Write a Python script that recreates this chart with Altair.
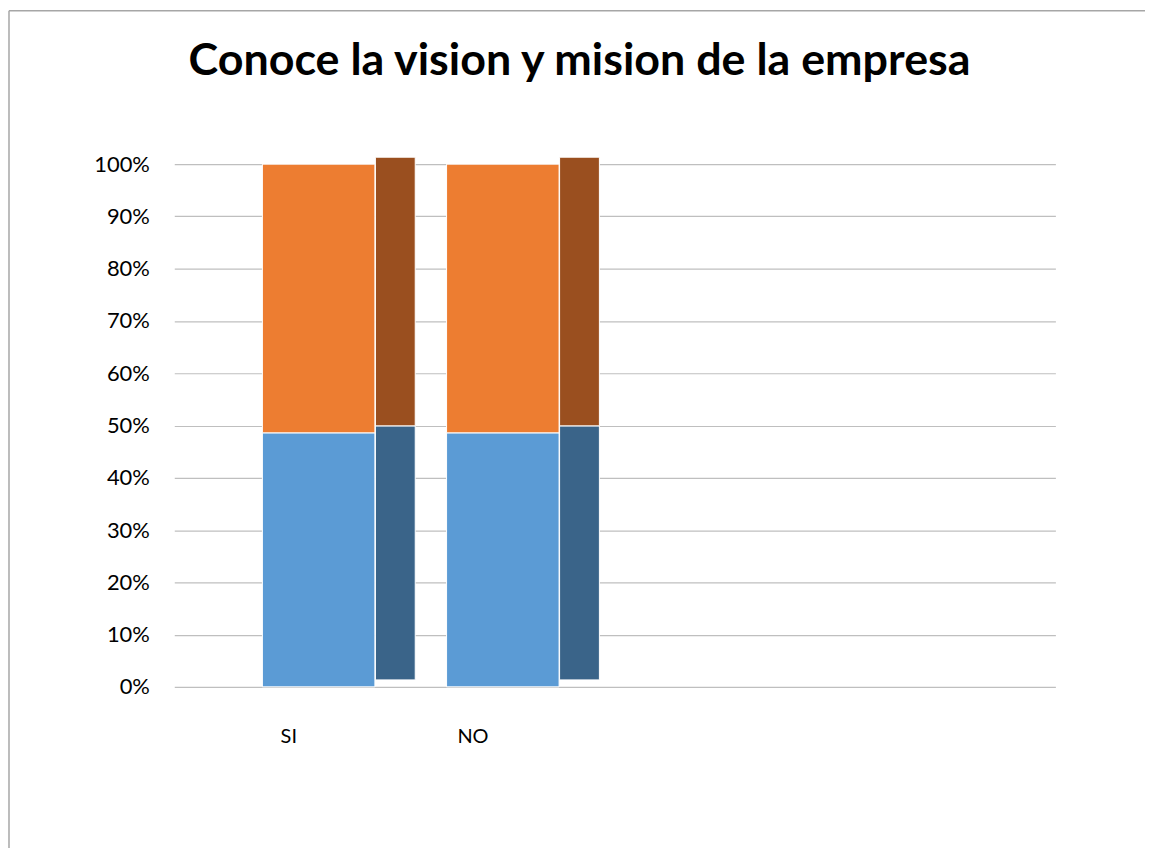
import altair as alt
import pandas as pd

titulo = "Conoce la vision y mision de la empresa"
categorias = ["SI", "NO"]
series = ["Serie1", "Serie2"]
serie1 = [48.6, 48.6]
serie2 = [51.4, 51.4]
dominio_x = ["SI", "NO", " ", "  "]
ticks_y = [0, 0.1, 0.2, 0.3, 0.4, 0.5, 0.6, 0.7, 0.8, 0.9, 1.0]

rows = []
for i, c in enumerate(categorias):
    rows.append({"categoria": c, "serie": series[0], "valor": serie1[i], "orden": 0})
    rows.append({"categoria": c, "serie": series[1], "valor": serie2[i], "orden": 1})
df = pd.DataFrame(rows)
df_title = pd.DataFrame({"t": [titulo]})

FONT = "Lato"
front_colors = ["#5B9BD5", "#ED7D31"]
side_colors = ["#3A6489", "#9A4F1F"]

x_enc = alt.X(
    "categoria:N",
    scale=alt.Scale(domain=dominio_x, paddingInner=0.17, paddingOuter=0.477),
    sort=dominio_x,
    axis=alt.Axis(title=None, domain=False, ticks=False, grid=False, labelAngle=0,
                  labelFont=FONT, labelFontSize=20, labelColor="#000000",
                  labelPadding=40, labelOffset=-50),
)
y_enc = alt.Y(
    "valor:Q", stack="normalize",
    scale=alt.Scale(domain=[0, 1], nice=False),
    axis=alt.Axis(title=None, values=ticks_y, format=".0%", domain=False, ticks=False,
                  labelFont=FONT, labelFontSize=22, labelColor="#000000",
                  labelPadding=25, gridColor="#BFBFBF", gridWidth=1.2),
)

base = alt.Chart(df)

front = base.mark_bar(width=113, xOffset=-20, stroke="white", strokeWidth=1).encode(
    x=x_enc, y=y_enc,
    color=alt.Color("serie:N", scale=alt.Scale(domain=series, range=front_colors), legend=None),
    order=alt.Order("orden:Q"),
)
side = base.mark_bar(width=40, xOffset=57, yOffset=-7, stroke="white", strokeWidth=1).encode(
    x=x_enc, y=y_enc,
    color=alt.Color("serie:N", scale=alt.Scale(domain=series, range=side_colors), legend=None),
    order=alt.Order("orden:Q"),
)

title_mark = alt.Chart(df_title).mark_text(
    font=FONT, fontSize=45, fontWeight="bold", color="#000000",
    align="center", baseline="alphabetic"
).encode(text="t:N", x=alt.value(407), y=alt.value(-90))

border_top = alt.Chart(df_title).mark_rule(color="#A6A6A6", strokeWidth=1.5).encode(
    x=alt.value(-166), x2=alt.value(978), y=alt.value(-154)
)
border_left = alt.Chart(df_title).mark_rule(color="#A6A6A6", strokeWidth=1.5).encode(
    x=alt.value(-166), x2=alt.value(-166), y=alt.value(-154), y2=alt.value(696)
)

chart = alt.layer(side, front, title_mark, border_top, border_left).resolve_scale(
    color="independent"
).properties(
    width=885, height=525,
    autosize=alt.AutoSizeParams(type="none"),
    padding={"left": 167, "top": 155, "right": 90, "bottom": 160},
).configure(background="white").configure_view(stroke=None)

chart.save("out.html", embed_options={"renderer": "svg", "actions": False})
